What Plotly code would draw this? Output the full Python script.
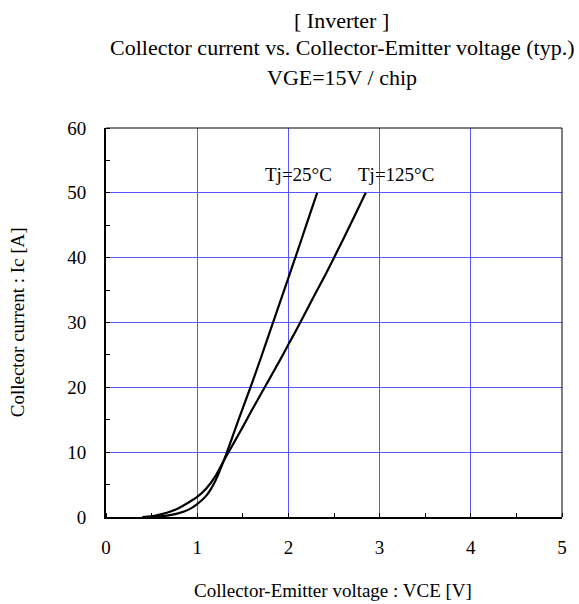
import plotly.graph_objects as go

# Tj = 25 degC curve
vce_25 = [0.4, 0.5, 0.6, 0.7, 0.8, 0.9, 1.0, 1.1, 1.2, 1.3, 1.4, 1.5, 1.6, 1.7, 1.8, 1.9, 2.0, 2.1, 2.2, 2.315]
ic_25 = [0.0, 0.02, 0.1, 0.3, 0.6, 1.1, 2.0, 3.3, 5.6, 9.0, 12.9, 16.8, 20.6, 24.6, 28.7, 32.8, 36.9, 41.0, 45.2, 50.0]

# Tj = 125 degC curve
vce_125 = [0.4, 0.5, 0.6, 0.7, 0.8, 0.9, 1.0, 1.1, 1.2, 1.3, 1.4, 1.5, 1.6, 1.7, 1.8, 1.9, 2.0, 2.1, 2.2, 2.3, 2.4, 2.5, 2.6, 2.7, 2.848]
ic_125 = [0.0, 0.1, 0.4, 0.8, 1.4, 2.2, 3.1, 4.4, 6.3, 8.9, 11.4, 13.9, 16.5, 19.0, 21.5, 24.0, 26.6, 29.2, 31.9, 34.6, 37.2, 40.0, 42.8, 45.7, 50.0]

x_ticks = [0, 1, 2, 3, 4, 5]
y_ticks = [0, 10, 20, 30, 40, 50, 60]

title_lines = ["[ Inverter ]",
               "Collector current vs. Collector-Emitter voltage (typ.)",
               "VGE=15V / chip"]
curve_labels = ["Tj=25°C", "Tj=125°C"]
x_title = "Collector-Emitter voltage : VCE [V]"
y_title = "Collector current : Ic [A]"

FONT = "Liberation Serif, Times New Roman, serif"
GRID = "#5858ff"

fig = go.Figure()
fig.add_trace(go.Scatter(x=vce_25, y=ic_25, mode="lines", name=curve_labels[0],
                         line=dict(color="black", width=2.2, shape="spline", smoothing=0.5)))
fig.add_trace(go.Scatter(x=vce_125, y=ic_125, mode="lines", name=curve_labels[1],
                         line=dict(color="black", width=2.2, shape="spline", smoothing=0.5)))

fig.update_layout(
    width=579, height=604,
    margin=dict(l=106, r=13, t=128, b=87),
    paper_bgcolor="white", plot_bgcolor="white",
    showlegend=False,
    font=dict(family=FONT, size=19, color="black"),
)

fig.update_xaxes(
    range=[0, 5], tickvals=x_ticks, ticktext=[str(v) for v in x_ticks],
    showgrid=True, gridcolor=GRID, gridwidth=1.3,
    showline=True, linecolor="black", linewidth=2,
    ticks="", ticklabelstandoff=12,
    minor=dict(dtick=0.5, ticks="inside", ticklen=4, tickcolor="black", tickwidth=1, showgrid=False),
    zeroline=False, tickfont=dict(family=FONT, size=19),
)
fig.update_yaxes(
    range=[0, 60], tickvals=y_ticks, ticktext=[str(v) for v in y_ticks],
    showgrid=True, gridcolor=GRID, gridwidth=1.3,
    showline=True, linecolor="black", linewidth=2,
    ticks="", ticklabelstandoff=14,
    minor=dict(dtick=5, ticks="inside", ticklen=4, tickcolor="black", tickwidth=1, showgrid=False),
    zeroline=False, tickfont=dict(family=FONT, size=19),
)

# frame top/right
fig.add_shape(type="line", xref="x domain", yref="y domain", x0=0, x1=1, y0=1, y1=1,
              line=dict(color="black", width=1))
fig.add_shape(type="line", xref="x domain", yref="y domain", x0=1, x1=1, y0=0, y1=1,
              line=dict(color="black", width=1))

# titles
for txt, yp in zip(title_lines, [1.2765, 1.207, 1.130]):
    fig.add_annotation(text=txt, xref="paper", yref="paper", x=0.517, y=yp,
                       xanchor="center", yanchor="middle", showarrow=False,
                       font=dict(family=FONT, size=22, color="black"))

fig.add_annotation(text=x_title, xref="paper", yref="paper", x=0.497, y=-0.188,
                   xanchor="center", yanchor="middle", showarrow=False,
                   font=dict(family=FONT, size=19, color="black"))
fig.add_annotation(text=y_title, xref="paper", yref="paper", x=-0.1935, y=0.5,
                   xanchor="center", yanchor="middle", showarrow=False, textangle=-90,
                   font=dict(family=FONT, size=19, color="black"))

# curve labels
fig.add_annotation(text=curve_labels[0], x=2.107, y=52.9, showarrow=False,
                   xanchor="center", yanchor="middle", font=dict(family=FONT, size=19, color="black"))
fig.add_annotation(text=curve_labels[1], x=3.18, y=52.9, showarrow=False,
                   xanchor="center", yanchor="middle", font=dict(family=FONT, size=19, color="black"))

fig.write_html("out.html", config={"displayModeBar": False},
               post_script="document.body.style.margin='0';document.body.style.overflow='hidden';")
